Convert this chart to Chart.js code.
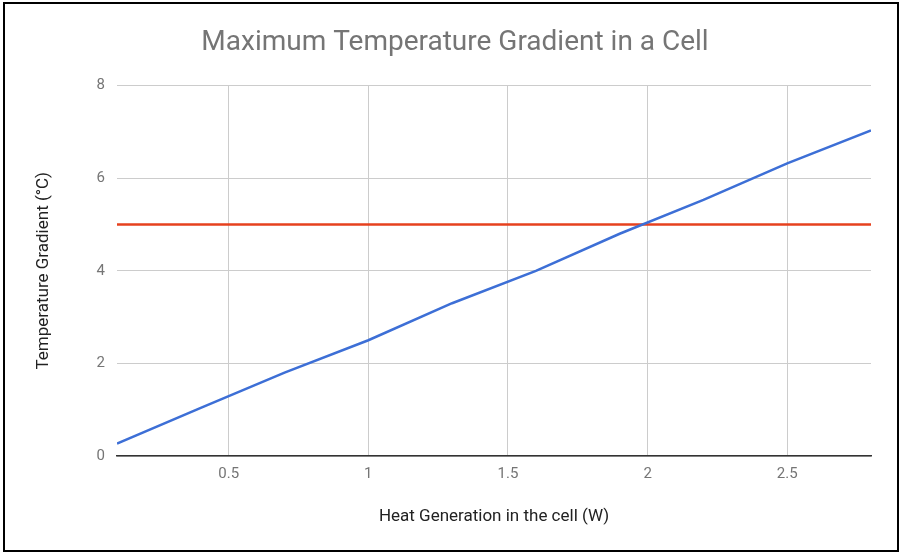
<!DOCTYPE html>
<html>
<head>
<meta charset="utf-8">
<title>Maximum Temperature Gradient in a Cell</title>
<script src="https://cdn.jsdelivr.net/npm/chart.js@4"></script>
<style>
  html, body { margin: 0; padding: 0; background: #fff; }
  #wrap { position: relative; width: 902px; height: 554px; }
  #frame {
    position: absolute; left: 3px; top: 2px; width: 892px; height: 546px;
    border: 2px solid #000; pointer-events: none;
  }
</style>
</head>
<body>
<div id="wrap">
  <canvas id="gradientChart" width="902" height="554"></canvas>
  <div id="frame"></div>
</div>
<script>
// Heat generation (W) vs. maximum temperature gradient (°C)
const heatW = [0.1, 0.4, 0.7, 1.0, 1.3, 1.6, 1.9, 2.2, 2.5, 2.8];
const gradientC = [0.27, 1.04, 1.8, 2.5, 3.3, 4.0, 4.8, 5.53, 6.32, 7.03];
const limitC = [5, 5, 5, 5, 5, 5, 5, 5, 5, 5];

const xTicks = [0.5, 1, 1.5, 2, 2.5];
const yTicks = [0, 2, 4, 6, 8];

const toPoints = (ys) => ys.map((y, i) => ({ x: heatW[i], y: y }));

Chart.defaults.font.family = "Roboto, 'Noto Sans', sans-serif";
Chart.defaults.animation = false;

const ctx = document.getElementById("gradientChart").getContext("2d");
new Chart(ctx, {
  type: "line",
  data: {
    datasets: [
      {
        label: "Temperature Gradient",
        data: toPoints(gradientC),
        borderColor: "#3d6fd6",
        borderWidth: 2.5,
        pointRadius: 0,
        tension: 0,
      },
      {
        label: "Limit",
        data: toPoints(limitC),
        borderColor: "#e6411e",
        borderWidth: 2.5,
        pointRadius: 0,
      },
    ],
  },
  options: {
    responsive: false,
    layout: { padding: { left: 8, right: 0, top: 0, bottom: 0 } },
    plugins: {
      legend: { display: false },
      tooltip: { enabled: false },
      title: {
        display: true,
        text: "Maximum Temperature Gradient in a Cell",
        color: "#757575",
        font: { size: 28, weight: "normal" },
        padding: { top: 26, bottom: 26 },
      },
    },
    scales: {
      x: {
        type: "linear",
        min: 0.1,
        max: 2.8,
        afterBuildTicks: (scale) => {
          scale.ticks = xTicks.map((v) => ({ value: v }));
        },
        afterFit: (scale) => {
          scale.height = 98;
        },
        grid: { color: "#cccccc", drawTicks: false },
        border: { display: true, color: "#333333", width: 1.5 },
        ticks: {
          color: "#757575",
          font: { size: 15 },
          padding: 9,
          maxRotation: 0,
          callback: (v) => String(v),
        },
        title: {
          display: true,
          text: "Heat Generation in the cell (W)",
          color: "#222222",
          font: { size: 17 },
          padding: { top: 0, bottom: 27 },
        },
      },
      y: {
        min: 0,
        max: 8,
        afterBuildTicks: (scale) => {
          scale.ticks = yTicks.map((v) => ({ value: v }));
        },
        afterFit: (scale) => {
          scale.width = 109;
        },
        grid: { color: "#cccccc", drawTicks: false },
        border: { display: false },
        ticks: {
          color: "#757575",
          font: { size: 15 },
          padding: 12,
        },
        title: {
          display: true,
          text: "Temperature Gradient (°C)",
          color: "#222222",
          font: { size: 17 },
          padding: { top: 26, bottom: 0 },
        },
      },
      // empty right-hand axis, reserves the gap after the plot
      yRight: {
        position: "right",
        display: true,
        min: 0,
        max: 8,
        afterFit: (scale) => {
          scale.width = 31;
        },
        grid: { display: false },
        border: { display: false },
        ticks: { display: false },
      },
    },
  },
});
</script>
</body>
</html>
